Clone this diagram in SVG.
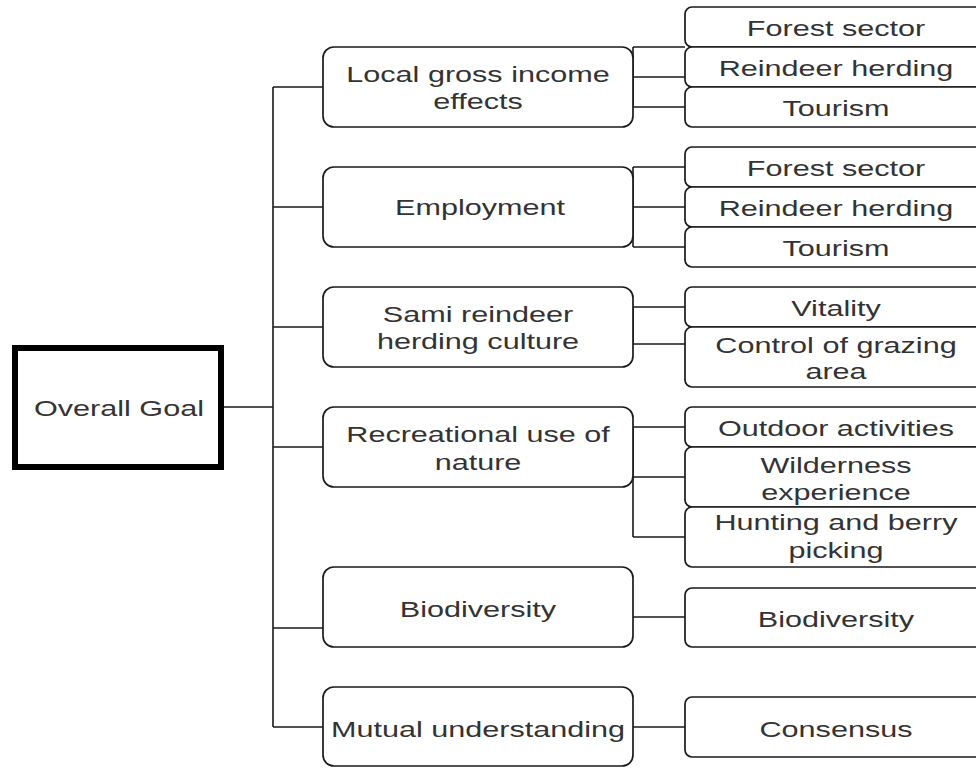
<svg xmlns="http://www.w3.org/2000/svg" width="976" height="768" viewBox="0 0 976 768">
  <style>
    .box { fill: #ffffff; stroke: #1a1a1a; stroke-width: 1.7; }
    .goal { fill: #ffffff; stroke: #000000; stroke-width: 6; }
    .wire { fill: none; stroke: #1a1a1a; stroke-width: 1.6; }
    text { font-family: "Liberation Sans", Arial, sans-serif; font-size: 22px; fill: #333333; text-anchor: middle; }
  </style>

  <!-- connectors -->
  <g id="connectors">
    <!-- main trunk from the overall goal -->
    <path class="wire" d="M224 407 H273 M273 87 V727"/>
    <path class="wire" d="M273 87 H323 M273 207 H323 M273 327 H323 M273 447 H323 M273 628 H323 M273 727 H323"/>
    <!-- local gross income effects -->
    <path class="wire" d="M633 47 V107 M633 47 H685 M633 77 H685 M633 107 H685"/>
    <!-- employment -->
    <path class="wire" d="M633 167 V247 M633 167 H685 M633 207 H685 M633 247 H685"/>
    <!-- sami reindeer herding culture -->
    <path class="wire" d="M633 307 V344 M633 307 H685 M633 344 H685"/>
    <!-- recreational use of nature -->
    <path class="wire" d="M633 427 V537 M633 427 H685 M633 477 H685 M633 537 H685"/>
    <!-- biodiversity / mutual understanding -->
    <path class="wire" d="M633 617 H685 M633 727 H685"/>
  </g>

  <!-- root -->
  <g id="overall-goal">
    <rect class="goal" x="15" y="348" width="206" height="119"/>
    <text transform="translate(119,416) scale(1.39,1)">Overall Goal</text>
  </g>

  <!-- second level -->
  <g id="local-gross-income">
    <rect class="box" x="323" y="47" width="310" height="80" rx="11"/>
    <text transform="translate(478,82) scale(1.39,1)"><tspan x="0">Local gross income</tspan><tspan x="0" dy="27">effects</tspan></text>
  </g>
  <g id="employment">
    <rect class="box" x="323" y="167" width="310" height="80" rx="11"/>
    <text transform="translate(480,215) scale(1.39,1)">Employment</text>
  </g>
  <g id="sami-culture">
    <rect class="box" x="323" y="287" width="310" height="80" rx="11"/>
    <text transform="translate(478,322) scale(1.39,1)"><tspan x="0">Sami reindeer</tspan><tspan x="0" dy="27">herding culture</tspan></text>
  </g>
  <g id="recreational-use">
    <rect class="box" x="323" y="407" width="310" height="80" rx="11"/>
    <text transform="translate(478,442) scale(1.39,1)"><tspan x="0">Recreational use of</tspan><tspan x="0" dy="28">nature</tspan></text>
  </g>
  <g id="biodiversity">
    <rect class="box" x="323" y="567" width="310" height="80" rx="11"/>
    <text transform="translate(478,617) scale(1.39,1)">Biodiversity</text>
  </g>
  <g id="mutual-understanding">
    <rect class="box" x="323" y="687" width="310" height="79" rx="11"/>
    <text transform="translate(478,737) scale(1.39,1)">Mutual understanding</text>
  </g>

  <!-- third level -->
  <g id="income-forest">
    <rect class="box" x="685" y="7" width="300" height="40" rx="7"/>
    <text transform="translate(836,36) scale(1.39,1)">Forest sector</text>
  </g>
  <g id="income-reindeer">
    <rect class="box" x="685" y="47" width="300" height="40" rx="7"/>
    <text transform="translate(836,76) scale(1.39,1)">Reindeer herding</text>
  </g>
  <g id="income-tourism">
    <rect class="box" x="685" y="87" width="300" height="40" rx="7"/>
    <text transform="translate(836,116) scale(1.39,1)">Tourism</text>
  </g>
  <g id="employment-forest">
    <rect class="box" x="685" y="147" width="300" height="40" rx="7"/>
    <text transform="translate(836,176) scale(1.39,1)">Forest sector</text>
  </g>
  <g id="employment-reindeer">
    <rect class="box" x="685" y="187" width="300" height="40" rx="7"/>
    <text transform="translate(836,216) scale(1.39,1)">Reindeer herding</text>
  </g>
  <g id="employment-tourism">
    <rect class="box" x="685" y="227" width="300" height="40" rx="7"/>
    <text transform="translate(836,256) scale(1.39,1)">Tourism</text>
  </g>
  <g id="vitality">
    <rect class="box" x="685" y="287" width="300" height="40" rx="7"/>
    <text transform="translate(836,316) scale(1.39,1)">Vitality</text>
  </g>
  <g id="grazing-control">
    <rect class="box" x="685" y="327" width="300" height="60" rx="7"/>
    <text transform="translate(836,353) scale(1.39,1)"><tspan x="0">Control of grazing</tspan><tspan x="0" dy="26">area</tspan></text>
  </g>
  <g id="outdoor-activities">
    <rect class="box" x="685" y="407" width="300" height="40" rx="7"/>
    <text transform="translate(836,436) scale(1.39,1)">Outdoor activities</text>
  </g>
  <g id="wilderness">
    <rect class="box" x="685" y="447" width="300" height="60" rx="7"/>
    <text transform="translate(836,473) scale(1.39,1)"><tspan x="0">Wilderness</tspan><tspan x="0" dy="27">experience</tspan></text>
  </g>
  <g id="hunting-berry">
    <rect class="box" x="685" y="507" width="300" height="60" rx="7"/>
    <text transform="translate(836,530) scale(1.39,1)"><tspan x="0">Hunting and berry</tspan><tspan x="0" dy="28">picking</tspan></text>
  </g>
  <g id="biodiversity-leaf">
    <rect class="box" x="685" y="588" width="300" height="59" rx="7"/>
    <text transform="translate(836,627) scale(1.39,1)">Biodiversity</text>
  </g>
  <g id="consensus">
    <rect class="box" x="685" y="697" width="300" height="60" rx="7"/>
    <text transform="translate(836,737) scale(1.39,1)">Consensus</text>
  </g>
</svg>
